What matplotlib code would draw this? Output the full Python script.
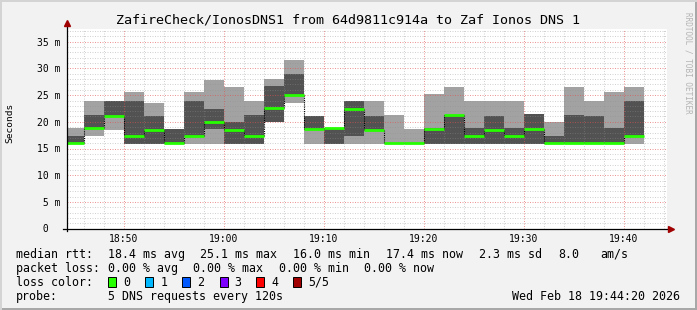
import matplotlib
matplotlib.use('Agg')
import matplotlib.pyplot as plt
from matplotlib.patches import Rectangle
import numpy as np

plt.rcParams['font.family'] = ['DejaVu Sans Mono']

# start of each 2 minute bin (step 120 s)
bin_times = ['18:44', '18:46', '18:48', '18:50', '18:52', '18:54', '18:56', '18:58',
             '19:00', '19:02', '19:04', '19:06', '19:08', '19:10', '19:12', '19:14',
             '19:16', '19:18', '19:20', '19:22', '19:24', '19:26', '19:28', '19:30',
             '19:32', '19:34', '19:36', '19:38', '19:40']

# the 5 sorted pings per bin, in ms (ping 3 = median)
ping1 = [15.9, 17.3, 18.5, 15.9, 15.9, 15.9, 15.9, 15.9, 15.9, 15.9, 20.0, 23.6, 15.9, 15.9, 15.9,
         15.9, 15.9, 15.9, 15.9, 15.9, 15.9, 15.9, 15.9, 15.9, 15.9, 15.9, 15.9, 15.9, 15.9]
ping2 = [15.9, 18.7, 20.9, 15.9, 15.9, 15.9, 17.3, 18.6, 15.9, 15.9, 20.0, 24.9, 18.5, 15.9, 17.35,
         18.5, 15.9, 15.9, 15.9, 15.9, 15.9, 15.9, 15.9, 15.9, 15.9, 15.9, 15.9, 15.9, 17.3]
median = [16.0, 18.85, 21.0, 17.4, 18.5, 16.0, 17.4, 20.0, 18.5, 17.4, 22.6, 25.1, 18.6, 18.8, 22.4,
          18.55, 16.0, 16.0, 18.7, 21.2, 17.4, 18.55, 17.4, 18.7, 16.0, 16.0, 16.0, 16.0, 17.4]
ping4 = [17.3, 21.3, 23.9, 23.9, 21.1, 18.7, 23.9, 22.4, 20.0, 21.3, 26.7, 29.0, 21.1, 18.9, 23.9,
         21.1, 16.0, 16.0, 18.8, 21.3, 18.9, 21.1, 18.9, 21.5, 17.35, 21.3, 21.1, 18.9, 23.9]
ping5 = [18.9, 23.9, 23.9, 25.5, 23.6, 18.7, 25.5, 27.85, 26.5, 23.9, 28.0, 31.6, 21.1, 18.9, 23.9,
         23.9, 21.3, 18.65, 25.2, 26.5, 23.9, 23.9, 23.9, 21.5, 20.0, 26.5, 23.9, 25.5, 26.5]

x_tick_pos = ['18:50', '19:00', '19:10', '19:20', '19:30', '19:40']
y_tick_vals = [0, 5, 10, 15, 20, 25, 30, 35]
y_tick_text = [' 0  ', ' 5 m', '10 m', '15 m', '20 m', '25 m', '30 m', '35 m']

loss_names = ['0', '1', '2', '3', '4', '5/5']
loss_colors = ['#26ff00', '#00b8ff', '#0059ff', '#7e00ff', '#ff0000', '#a10000']

W, H = 697, 310


def to_min(t):
    h, m = t.split(':')
    return (int(h) - 18) * 60 + int(m)


def fx(px):
    return px / W


def fy(py):
    return 1 - py / H


def main():
    fig = plt.figure(figsize=(W / 100, H / 100), dpi=100, facecolor='#f2f2f2')

    # rrdtool style frame
    fig.patches.append(Rectangle((0, 0), 1, 2 / H, transform=fig.transFigure,
                                 color='#a8a8a8', lw=0))
    fig.patches.append(Rectangle((1 - 2 / W, 0), 2 / W, 1, transform=fig.transFigure,
                                 color='#a8a8a8', lw=0))
    fig.patches.append(Rectangle((0, 1 - 2 / H), 1, 2 / H, transform=fig.transFigure,
                                 color='#d4d4d4', lw=0))
    fig.patches.append(Rectangle((0, 0), 2 / W, 1, transform=fig.transFigure,
                                 color='#d4d4d4', lw=0))

    ax = fig.add_axes([fx(67), fy(228.5), 600 / W, 200 / H])
    ax.set_facecolor('white')

    x = np.array([to_min(t) for t in bin_times])
    p1, p2, med = np.array(ping1), np.array(ping2), np.array(median)
    p4, p5 = np.array(ping4), np.array(ping5)

    ax.bar(x, p5 - p1, bottom=p1, width=2, align='edge', color='#a2a2a2', linewidth=0, zorder=1)
    ax.bar(x, p4 - p2, bottom=p2, width=2, align='edge', color='#525252', linewidth=0, zorder=1.1)
    ax.vlines(x[1:], med[:-1], med[1:], colors='black', linewidth=0.8,
              linestyles=(0, (1, 1)), zorder=3)
    ax.hlines(med, x, x + 2, colors=loss_colors[0], linewidth=2.0, zorder=4)

    x0 = 44 + 20 / 60
    ax.set_xlim(x0, x0 + 60)
    ax.set_ylim(0, 37.5)

    major_x = [to_min(t) for t in x_tick_pos]
    ax.set_xticks(major_x)
    ax.set_xticklabels(x_tick_pos, fontsize=7)
    ax.set_yticks(y_tick_vals)
    ax.set_yticklabels(y_tick_text, fontsize=7)
    ax.tick_params(which='both', length=0)
    ax.tick_params(axis='y', pad=5)
    ax.tick_params(axis='x', pad=4)

    # grid drawn over the smoke, like rrdtool
    dots = (0, (1, 1.5))
    for gx in range(46, 105, 2):
        if gx in major_x:
            continue
        ax.axvline(gx, color='#8f8f8f', alpha=0.4, lw=0.72, linestyle=dots, zorder=2.5)
    for gy in range(1, 38):
        if gy in y_tick_vals:
            continue
        ax.axhline(gy, color='#8f8f8f', alpha=0.4, lw=0.72, linestyle=dots, zorder=2.5)
    for gx in major_x:
        ax.axvline(gx, color='#e05050', alpha=0.6, lw=0.72, linestyle=dots, zorder=2.6)
    for gy in y_tick_vals[1:]:
        ax.axhline(gy, color='#e05050', alpha=0.6, lw=0.72, linestyle=dots, zorder=2.6)
    for s in ax.spines.values():
        s.set_visible(False)

    # axes with arrows
    ax.plot([x0 - 0.43, x0 + 60.3], [0, 0], color='black', lw=0.9, clip_on=False, zorder=5)
    ax.plot([x0, x0], [-0.4, 38.3], color='black', lw=0.9, clip_on=False, zorder=5)
    ax.plot([x0 + 60.45], [0], marker='>', ms=4, color='#a00000', clip_on=False, zorder=6)
    ax.plot([x0], [38.5], marker='^', ms=4, color='#a00000', clip_on=False, zorder=6)

    fig.text(fx(10), fy(123), 'Seconds', rotation=90, fontsize=6.8, ha='center', va='center')
    fig.text(fx(348.5), fy(20), 'ZafireCheck/IonosDNS1 from 64d9811c914a to Zaf Ionos DNS 1',
             fontsize=9.6, ha='center', va='center')
    fig.text(fx(688), fy(12), 'RRDTOOL / TOBI OETIKER', rotation=270, fontsize=5.5,
             color='#b4b4b4', ha='center', va='top')

    fs = 8.4
    rows = [254.3, 268.3, 282.3, 296.3]
    fig.text(fx(16), fy(rows[0]), 'median rtt:', fontsize=fs, va='center')
    for px, s in [(107.6, '18.4 ms avg'), (200, '25.1 ms max'), (292.9, '16.0 ms min'),
                  (385.8, '17.4 ms now'), (479.1, '2.3 ms sd'), (557.8, '8.0'), (600, 'am/s')]:
        fig.text(fx(px), fy(rows[0]), s, fontsize=fs, va='center')
    fig.text(fx(16), fy(rows[1]), 'packet loss:', fontsize=fs, va='center')
    for px, s in [(107.6, '0.00 % avg'), (192.9, '0.00 % max'), (279, '0.00 % min'),
                  (364.4, '0.00 % now')]:
        fig.text(fx(px), fy(rows[1]), s, fontsize=fs, va='center')
    fig.text(fx(16), fy(rows[2]), 'loss color:', fontsize=fs, va='center')
    box_x = [108, 145.3, 182.2, 219.6, 256.4, 293.3]
    for bx, name, col in zip(box_x, loss_names, loss_colors):
        fig.patches.append(Rectangle((fx(bx), fy(rows[2] + 5)), 8 / W, 10 / H,
                                     transform=fig.transFigure, facecolor=col,
                                     edgecolor='black', lw=0.7))
        fig.text(fx(bx + 15), fy(rows[2]), name, fontsize=fs, va='center')
    fig.text(fx(16), fy(rows[3]), 'probe:', fontsize=fs, va='center')
    fig.text(fx(107.6), fy(rows[3]), '5 DNS requests every 120s', fontsize=fs, va='center')
    fig.text(fx(680), fy(rows[3]), 'Wed Feb 18 19:44:20 2026', fontsize=fs, va='center', ha='right')

    fig.savefig('out.png', dpi=100, facecolor=fig.get_facecolor())


if __name__ == '__main__':
    main()
